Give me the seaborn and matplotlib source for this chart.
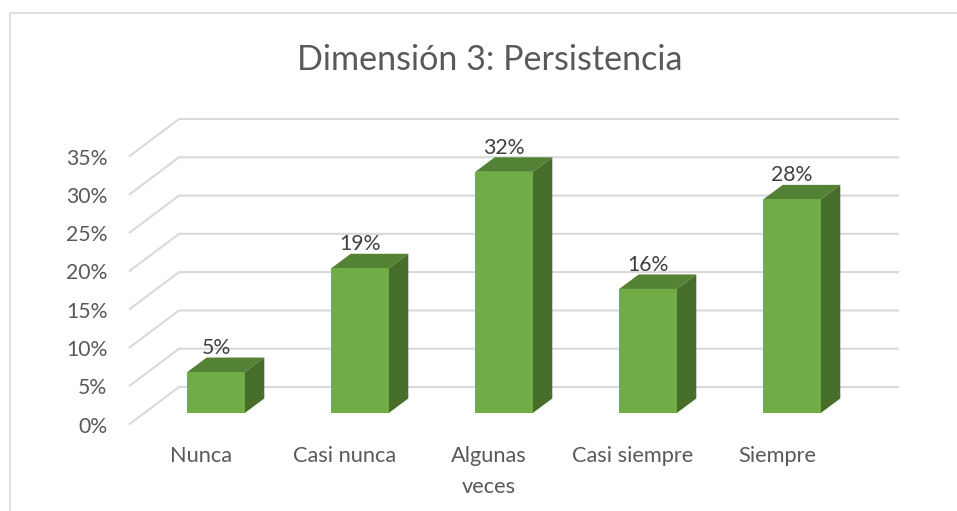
import matplotlib
matplotlib.use("Agg")
import matplotlib.pyplot as plt
import seaborn as sns
from matplotlib.lines import Line2D
from matplotlib.patches import Polygon
from matplotlib.transforms import Affine2D, IdentityTransform

categories = ["Nunca", "Casi nunca", "Algunas\nveces", "Casi siempre", "Siempre"]
values = [5.35, 18.9, 31.5, 16.2, 27.9]
value_labels = ["5%", "19%", "32%", "16%", "28%"]
y_ticks = [0, 5, 10, 15, 20, 25, 30, 35]

W, H = 957, 511
GRID = "#D9D9D9"
TEXT = "#595959"

sns.set_theme(style="white")
plt.rcParams["font.family"] = ["Lato", "DejaVu Sans"]

fig = plt.figure(figsize=(W / 100, H / 100), dpi=100, facecolor="white")
# front plane of the bars: x 144-864 px, y 145-413 px from the top
ax = fig.add_axes([144 / W, (H - 413) / H, 720 / W, 268 / H])

sns.barplot(x=categories, y=values, color="#70AD47", saturation=1, width=0.4, ax=ax, zorder=3)
ax.set_xlim(-0.5, 4.5)
ax.set_ylim(0, 35)
ax.set_yticks(y_ticks, [f"{t}%" for t in y_ticks])
ax.set_xlabel("")
ax.set_ylabel("")
ax.patch.set_alpha(0)
sns.despine(ax=ax, left=True, bottom=True)
ax.tick_params(axis="both", length=0, colors=TEXT)
ax.tick_params(axis="y", pad=15.5, labelsize=15.2)
ax.tick_params(axis="x", pad=24, labelsize=15.7)

# walls are offset from the bar plane in pixels
back = (35, 26)
front = (-15, -11.5)
for t in y_ticks:
    x0, y0 = ax.transData.transform((-0.5, t))
    x1, y1 = ax.transData.transform((4.5, t))
    ax.add_line(Line2D([x0 + front[0], x0 + back[0], x1 + back[0]],
                       [y0 + front[1], y0 + back[1], y1 + back[1]],
                       color=GRID, lw=1.5, solid_capstyle="butt",
                       transform=IdentityTransform(), clip_on=False, zorder=1))

# top and side faces of each bar
depth = (19.5, 14.5)
for bar in ax.containers[0]:
    bar.set_edgecolor("none")
    x0, y0 = ax.transData.transform((bar.get_x(), 0))
    x1, y1 = ax.transData.transform((bar.get_x() + bar.get_width(), bar.get_height()))
    dx, dy = depth
    ax.add_patch(Polygon([(x0, y1), (x1, y1), (x1 + dx, y1 + dy), (x0 + dx, y1 + dy)], facecolor="#548235",
                         edgecolor="none", transform=IdentityTransform(), clip_on=False, zorder=2))
    ax.add_patch(Polygon([(x1, y0), (x1 + dx, y0 + dy), (x1 + dx, y1 + dy), (x1, y1)], facecolor="#476D2B",
                         edgecolor="none", transform=IdentityTransform(), clip_on=False, zorder=2))

ax.bar_label(ax.containers[0], labels=value_labels, padding=10, fontsize=15.3, color="#404040", zorder=4)

for label in ax.get_yticklabels():
    label.set_transform(label.get_transform() + Affine2D().translate(*front))
for label in ax.get_xticklabels():
    label.set_transform(label.get_transform() + Affine2D().translate(front[0], 0))
    label.set_linespacing(1.65)

fig.text(490 / W, 1 - 60.5 / H, "Dimensión 3: Persistencia", ha="center", va="center", fontsize=24.6, color=TEXT)

# chart frame, cropped on the right and bottom
fig.add_artist(Line2D([9.5 / W, 9.5 / W, 1], [0, 1 - 13.5 / H, 1 - 13.5 / H], color=GRID, lw=1.2))

fig.savefig("out.png", dpi=100)
